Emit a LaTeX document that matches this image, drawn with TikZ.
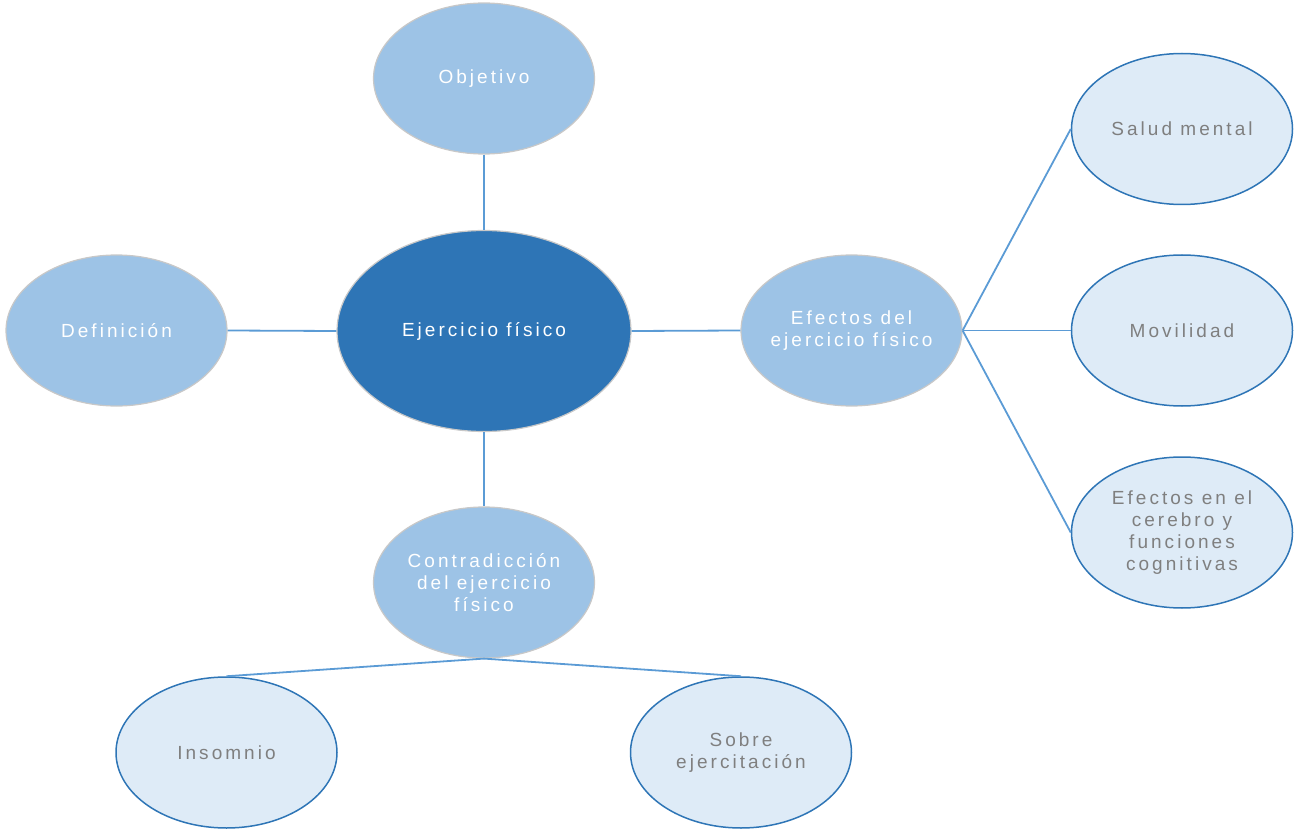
\documentclass[tikz,border=0pt]{standalone}
\usepackage{fontspec}
\setmainfont{Liberation Sans}[LetterSpace=16]
\usetikzlibrary{shapes.geometric}
\definecolor{darkblue}{HTML}{2E75B6}
\definecolor{midblue}{HTML}{9DC3E6}
\definecolor{paleblue}{HTML}{DEEBF7}
\definecolor{linkblue}{HTML}{5B9BD5}
\definecolor{rimgray}{HTML}{C8C8C8}
\definecolor{txtgray}{HTML}{7F7F7F}
\begin{document}
\begin{tikzpicture}[x=1pt,y=-1pt,
  bubble/.style={ellipse, minimum width=221pt, minimum height=151pt, inner sep=-20pt,
     align=center, font=\fontsize{19}{21.8}\selectfont},
  core/.style={bubble, fill=darkblue, draw=rimgray, line width=1.2pt, text=white,
     minimum width=294pt, minimum height=201pt},
  topic/.style={bubble, fill=midblue, draw=rimgray, line width=1.2pt, text=white},
  leaf/.style={bubble, fill=paleblue, draw=darkblue, line width=1.5pt, text=txtgray},
  link/.style={draw=linkblue, line width=1.8pt}]
\useasboundingbox (0,0) rectangle (1294,829);
\node[core] (ej) at (484,331) {Ejercicio físico};
\node[topic] (obj) at (484,78.5) {Objetivo};
\node[topic] (def) at (116.5,330.5) {Definición};
\node[topic] (efe) at (851.5,330.5) {Efectos del\\ejercicio físico};
\node[topic] (con) at (484,582.5) {Contradicción\\del ejercicio\\físico};
\node[leaf] (sal) at (1182,129) {Salud mental};
\node[leaf] (mov) at (1182,330.5) {Movilidad};
\node[leaf] (cer) at (1182,532.5) {Efectos en el\\cerebro y\\funciones\\cognitivas};
\node[leaf] (ins) at (226.5,752.5) {Insomnio};
\node[leaf] (sob) at (741,752.5) {Sobre\\ejercitación};
\path[link] (obj.south) -- (ej.north);
\path[link] (def.east) -- (ej.west);
\path[link] (ej.east) -- (efe.west);
\path[link] (ej.south) -- (con.north);
\path[link] (efe.east) -- (sal.west);
\path[link] (efe.east) -- (mov.west);
\path[link] (efe.east) -- (cer.west);
\path[link] (con.south) -- (ins.north);
\path[link] (con.south) -- (sob.north);
\end{tikzpicture}
\end{document}
